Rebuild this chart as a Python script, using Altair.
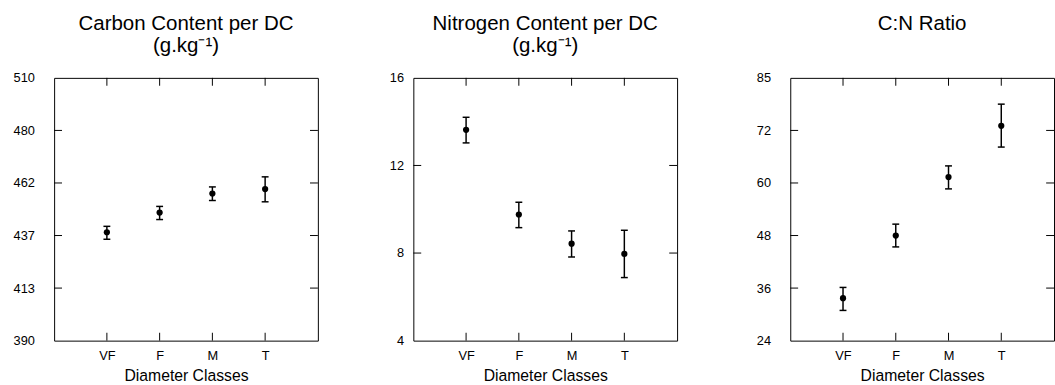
import altair as alt
import pandas as pd

categories = ["VF", "F", "M", "T"]

carbon_mean = [439.5, 448.5, 457.2, 459.2]
carbon_lo = [436.3, 445.3, 454.0, 453.4]
carbon_hi = [442.2, 451.3, 460.2, 464.8]

nitrogen_mean = [13.63, 9.76, 8.43, 7.96]
nitrogen_lo = [13.03, 9.16, 7.82, 6.88]
nitrogen_hi = [14.20, 10.32, 9.01, 9.04]

cn_mean = [33.7, 48.0, 61.35, 73.05]
cn_lo = [30.9, 45.4, 58.65, 68.2]
cn_hi = [36.15, 50.6, 63.9, 78.0]

carbon_ticks = [390, 414, 438, 462, 486, 510]
carbon_tick_labels = ["390", "413", "437", "462", "480", "510"]
nitrogen_ticks = [4, 8, 12, 16]
nitrogen_tick_labels = ["4", "8", "12", "16"]
cn_ticks = [24, 36, 48, 60, 72, 84]
cn_tick_labels = ["24", "36", "48", "60", "72", "85"]

x_title = "Diameter Classes"
titles = [
    ["Carbon Content per DC", "(g.kg\u207b\u00b9)"],
    ["Nitrogen Content per DC", "(g.kg\u207b\u00b9)"],
    ["C:N Ratio"],
]

W, H = 268, 267
FONT = "Liberation Sans"
TL = 8  # inner tick length


def panel(title_lines, means, los, his, ticks, labels, extent, label_pad, title_offset):
    df = pd.DataFrame({"dc": categories, "mean": means, "lo": los, "hi": his})
    inner = pd.DataFrame({"v": ticks[1:-1]})
    ysc = alt.Scale(domain=[ticks[0], ticks[-1]], nice=False, zero=False)
    xsc = alt.Scale(type="point", padding=1)
    expr = " : ".join(f"datum.value == {t} ? '{l}'" for t, l in zip(ticks, labels)) + " : datum.label"
    x_axis = alt.Axis(
        title=x_title, labelAngle=0, ticks=False, domain=False, grid=False,
        labelPadding=9, labelFontSize=13, titleFontSize=16, titleFontWeight="normal",
        titlePadding=6, labelFont=FONT, titleFont=FONT, labelColor="black", titleColor="black",
    )
    y_axis = alt.Axis(
        title=None, values=ticks, labelExpr=expr, ticks=False, domain=False, grid=False,
        labelPadding=label_pad, minExtent=extent, maxExtent=extent, labelFontSize=13,
        labelFont=FONT, labelColor="black",
    )
    X = alt.X("dc:N", sort=categories, scale=xsc, axis=x_axis)

    def Y(field):
        return alt.Y(field, scale=ysc, axis=y_axis)

    base = alt.Chart(df)
    pts = base.mark_circle(size=40, color="black", opacity=1).encode(x=X, y=Y("mean:Q"))
    bars = base.mark_rule(color="black", strokeWidth=1.5).encode(x=X, y=Y("lo:Q"), y2="hi:Q")
    cap_lo = base.mark_tick(color="black", size=7, thickness=1.5, opacity=1).encode(x=X, y=Y("lo:Q"))
    cap_hi = base.mark_tick(color="black", size=7, thickness=1.5, opacity=1).encode(x=X, y=Y("hi:Q"))
    top_t = base.mark_rule(color="black", strokeWidth=1).encode(
        x=X, y=alt.value(0), y2=alt.value(TL)
    )
    bot_t = base.mark_rule(color="black", strokeWidth=1).encode(
        x=X, y=alt.value(H - TL), y2=alt.value(H)
    )
    ic = alt.Chart(inner)
    left_t = ic.mark_rule(color="black", strokeWidth=1).encode(
        y=Y("v:Q"), x=alt.value(0), x2=alt.value(TL)
    )
    right_t = ic.mark_rule(color="black", strokeWidth=1).encode(
        y=Y("v:Q"), x=alt.value(W - TL), x2=alt.value(W)
    )
    return alt.layer(pts, bars, cap_lo, cap_hi, top_t, bot_t, left_t, right_t).properties(
        width=W, height=H,
        title=alt.TitleParams(
            text=title_lines, fontSize=20.8, font=FONT, fontWeight="normal", anchor="middle",
            frame="group", offset=title_offset, baseline="bottom", lineHeight=23, color="black",
        ),
    )


p1 = panel(titles[0], carbon_mean, carbon_lo, carbon_hi, carbon_ticks, carbon_tick_labels, 53, 20, -5)
p2 = panel(titles[1], nitrogen_mean, nitrogen_lo, nitrogen_hi, nitrogen_ticks, nitrogen_tick_labels, 85, 10, -5)
p3 = panel(titles[2], cn_mean, cn_lo, cn_hi, cn_ticks, cn_tick_labels, 103, 20, 18)

chart = (
    alt.hconcat(p1, p2, p3, spacing=10)
    .properties(padding={"left": 1, "top": 9, "right": 0, "bottom": 0})
    .configure_view(stroke="black", strokeWidth=1)
)

chart.save("out.html", embed_options={"renderer": "svg", "actions": False})
